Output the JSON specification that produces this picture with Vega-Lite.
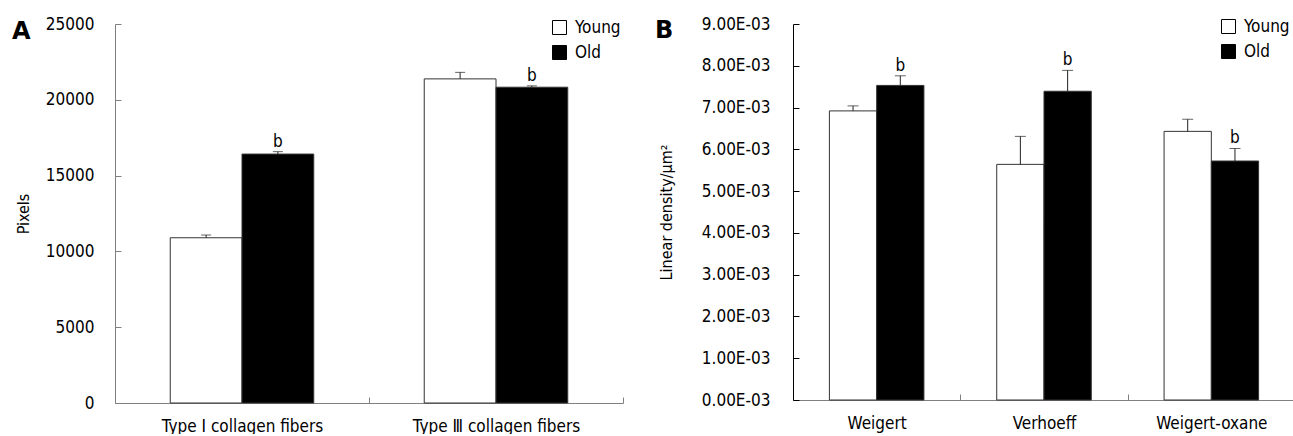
{
  "$schema": "https://vega.github.io/schema/vega-lite/v6.json",
  "background": "white",
  "padding": {"left": 12, "top": 15, "right": 0, "bottom": 0},
  "spacing": 170,
  "bounds": "flush",
  "config": {
    "view": {"stroke": null},
    "font": "DejaVu Sans Condensed, DejaVu Sans",
    "axis": {"grid": false, "labelColor": "#000", "titleColor": "#000", "labelFont": "DejaVu Sans Condensed, DejaVu Sans", "titleFont": "DejaVu Sans Condensed, DejaVu Sans", "labelFontSize": 17, "titleFontSize": 16, "titleFontWeight": "normal"}
  },
  "resolve": {"scale": {"fill": "independent", "y": "independent", "x": "independent", "xOffset": "independent"}, "legend": {"fill": "independent"}},
  "hconcat": [
    {
      "width": 508,
      "height": 379,
      "title": {"text": "A", "anchor": "start", "frame": "group", "dx": -103, "dy": 15, "offset": -33, "baseline": "alphabetic", "fontSize": 24, "fontWeight": "bold", "font": "DejaVu Sans, Verdana"},
      "data": {"values": [
        {"group": "Type Ⅰ collagen fibers", "age": "Young", "value": 10900, "upper": 11080, "sig": ""},
        {"group": "Type Ⅰ collagen fibers", "age": "Old", "value": 16420, "upper": 16580, "sig": "b"},
        {"group": "Type Ⅲ collagen fibers", "age": "Young", "value": 21380, "upper": 21810, "sig": ""},
        {"group": "Type Ⅲ collagen fibers", "age": "Old", "value": 20830, "upper": 20920, "sig": "b"}
      ]},
      "encoding": {
        "x": {"field": "group", "type": "nominal", "sort": ["Type Ⅰ collagen fibers", "Type Ⅲ collagen fibers"], "scale": {"paddingInner": 0, "paddingOuter": 0},
          "axis": {"title": null, "tickBand": "extent", "tickSize": -6, "domainColor": "#808080", "tickColor": "#808080", "labelAngle": 0, "labelPadding": 21, "labelBaseline": "top"}},
        "xOffset": {"field": "age", "type": "nominal", "sort": ["Young", "Old"], "scale": {"paddingInner": 0, "paddingOuter": 0.77}}
      },
      "layer": [
        {
          "mark": {"type": "bar", "stroke": "#333", "strokeWidth": 1},
          "encoding": {
            "y": {"field": "value", "type": "quantitative", "scale": {"domain": [0, 25000], "nice": false},
              "axis": {"title": "Pixels", "values": [0, 5000, 10000, 15000, 20000, 25000], "format": "d", "domainColor": "#808080", "tickColor": "#808080", "tickSize": -6, "labelPadding": 27, "titleX": -87, "titleBaseline": "alphabetic"}},
            "fill": {"field": "age", "type": "nominal", "scale": {"domain": ["Young", "Old"], "range": ["#ffffff", "#000000"]},
              "legend": {"orient": "none", "legendX": 436, "legendY": -5, "title": null, "symbolType": "square", "symbolSize": 196, "symbolStrokeColor": "#000", "symbolStrokeWidth": 1, "labelFontSize": 17, "labelFont": "DejaVu Sans Condensed, DejaVu Sans", "labelColor": "#000", "rowPadding": 6, "padding": 0, "labelOffset": 7}}
          }
        },
        {
          "mark": {"type": "rule", "color": "#222", "strokeWidth": 1},
          "encoding": {"y": {"field": "value", "type": "quantitative"}, "y2": {"field": "upper"}}
        },
        {
          "mark": {"type": "tick", "orient": "horizontal", "size": 10, "thickness": 1, "color": "#222"},
          "encoding": {"y": {"field": "upper", "type": "quantitative"}}
        },
        {
          "mark": {"type": "text", "dy": -5, "baseline": "alphabetic", "fontSize": 17, "color": "#000"},
          "encoding": {"y": {"field": "upper", "type": "quantitative"}, "text": {"field": "sig"}}
        }
      ]
    },
    {
      "width": 502,
      "height": 376,
      "title": {"text": "B", "anchor": "start", "frame": "group", "dx": -138, "dy": 14, "offset": -33, "baseline": "alphabetic", "fontSize": 24, "fontWeight": "bold", "font": "DejaVu Sans, Verdana"},
      "data": {"values": [
        {"group": "Weigert", "age": "Young", "value": 0.00692, "upper": 0.00704, "sig": ""},
        {"group": "Weigert", "age": "Old", "value": 0.00753, "upper": 0.00776, "sig": "b"},
        {"group": "Verhoeff", "age": "Young", "value": 0.00564, "upper": 0.00631, "sig": ""},
        {"group": "Verhoeff", "age": "Old", "value": 0.00739, "upper": 0.00789, "sig": "b"},
        {"group": "Weigert-oxane", "age": "Young", "value": 0.00643, "upper": 0.00672, "sig": ""},
        {"group": "Weigert-oxane", "age": "Old", "value": 0.00572, "upper": 0.00602, "sig": "b"}
      ]},
      "encoding": {
        "x": {"field": "group", "type": "nominal", "sort": ["Weigert", "Verhoeff", "Weigert-oxane"], "scale": {"paddingInner": 0, "paddingOuter": 0},
          "axis": {"title": null, "tickBand": "extent", "tickSize": -6, "domainColor": "#808080", "tickColor": "#808080", "labelAngle": 0, "labelPadding": 21, "labelBaseline": "top"}},
        "xOffset": {"field": "age", "type": "nominal", "sort": ["Young", "Old"], "scale": {"paddingInner": 0, "paddingOuter": 0.77}}
      },
      "layer": [
        {
          "mark": {"type": "bar", "stroke": "#333", "strokeWidth": 1},
          "encoding": {
            "y": {"field": "value", "type": "quantitative", "scale": {"domain": [0, 0.009], "nice": false},
              "axis": {"title": "Linear density/μm²", "values": [0, 0.001, 0.002, 0.003, 0.004, 0.005, 0.006, 0.007, 0.008, 0.009], "labelExpr": "format(datum.value * 1000, '.2f') + 'E-03'", "domainColor": "#000", "tickColor": "#000", "tickSize": -6, "labelPadding": 29, "titleX": -122, "titleBaseline": "alphabetic"}},
            "fill": {"field": "age", "type": "nominal", "scale": {"domain": ["Young", "Old"], "range": ["#ffffff", "#000000"]},
              "legend": {"orient": "none", "legendX": 427, "legendY": -6, "title": null, "symbolType": "square", "symbolSize": 196, "symbolStrokeColor": "#000", "symbolStrokeWidth": 1, "labelFontSize": 17, "labelFont": "DejaVu Sans Condensed, DejaVu Sans", "labelColor": "#000", "rowPadding": 6, "padding": 0, "labelOffset": 7}}
          }
        },
        {
          "mark": {"type": "rule", "color": "#222", "strokeWidth": 1},
          "encoding": {"y": {"field": "value", "type": "quantitative"}, "y2": {"field": "upper"}}
        },
        {
          "mark": {"type": "tick", "orient": "horizontal", "size": 11, "thickness": 1, "color": "#222"},
          "encoding": {"y": {"field": "upper", "type": "quantitative"}}
        },
        {
          "mark": {"type": "text", "dy": -5, "baseline": "alphabetic", "fontSize": 17, "color": "#000"},
          "encoding": {"y": {"field": "upper", "type": "quantitative"}, "text": {"field": "sig"}}
        }
      ]
    }
  ]
}
